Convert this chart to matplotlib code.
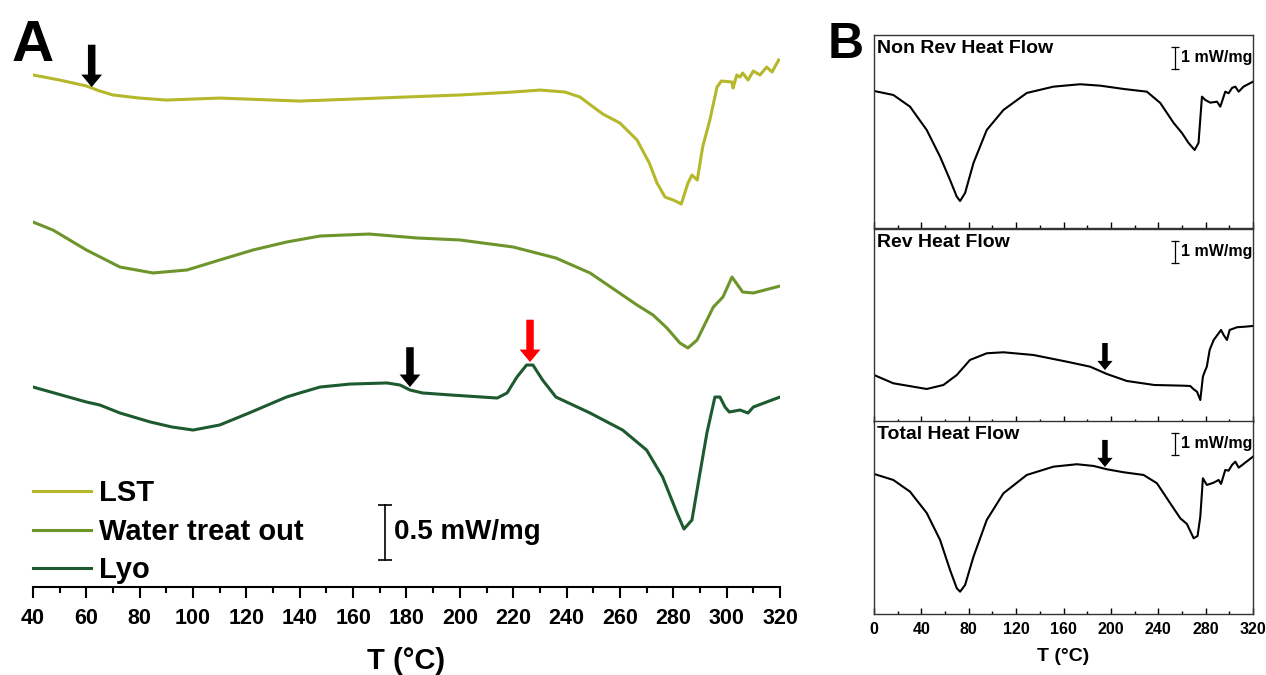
import matplotlib
matplotlib.use("Agg")
import matplotlib.pyplot as plt
import numpy as np

NARROW = ["Liberation Sans Narrow", "Liberation Sans", "DejaVu Sans"]
ARIAL = ["Liberation Sans", "DejaVu Sans"]

# ---- panel A: heat flow (mW/mg, stacked offsets) ----
lst_t = [40, 50, 60, 65, 70, 80, 90, 100, 110, 120, 140, 160, 180, 200, 220, 230,
         239.4, 245, 250, 253.6, 260, 266.4, 271, 273.9, 276.9, 280, 283, 285.5,
         287, 289, 291, 293.7, 296.4, 298, 302, 302.4, 303.8, 305, 306, 308, 310,
         312.5, 315, 317, 319.5]
lst_hf = [4.755, 4.709, 4.655, 4.609, 4.573, 4.545, 4.527, 4.536, 4.545, 4.536,
          4.518, 4.536, 4.555, 4.573, 4.600, 4.618, 4.600, 4.555, 4.464, 4.400,
          4.318, 4.164, 3.955, 3.773, 3.645, 3.618, 3.582, 3.773, 3.845, 3.800,
          4.100, 4.345, 4.645, 4.700, 4.691, 4.636, 4.755, 4.736, 4.773, 4.709,
          4.791, 4.755, 4.827, 4.782, 4.891]

water_t = [40, 47.5, 60, 72.6, 85, 97.7, 110, 122.5, 135, 147.6, 166, 184, 200,
           220, 236, 248.8, 266.4, 272.4, 277.6, 282.5, 285.5, 288.9, 295, 298.6,
           302, 306, 310, 320]
water_hf = [3.418, 3.345, 3.164, 3.009, 2.955, 2.982, 3.073, 3.164, 3.236, 3.291,
            3.309, 3.273, 3.255, 3.191, 3.091, 2.955, 2.664, 2.573, 2.455, 2.318,
            2.273, 2.345, 2.645, 2.736, 2.918, 2.782, 2.773, 2.836]

lyo_t = [40, 60, 65, 72.6, 84, 92, 100, 110, 121, 135, 140, 147.6, 158.8, 172.7,
         177.6, 181.3, 186, 197, 214, 217.7, 221.4, 225, 227.4, 231, 236, 248.8,
         261, 270, 276, 281.4, 284, 287, 290, 292.6, 295.6, 297.5, 299.4, 301,
         305, 308, 310, 315, 320]
lyo_hf = [1.918, 1.782, 1.755, 1.682, 1.600, 1.555, 1.527, 1.573, 1.682, 1.827,
          1.864, 1.918, 1.945, 1.955, 1.936, 1.891, 1.864, 1.845, 1.818, 1.864,
          2.009, 2.118, 2.118, 1.982, 1.827, 1.682, 1.527, 1.345, 1.100, 0.773,
          0.627, 0.709, 1.136, 1.500, 1.827, 1.827, 1.736, 1.691, 1.709, 1.682,
          1.736, 1.782, 1.827]

labels_a = ["LST", "Water treat out", "Lyo"]
colors_a = ["#b4b82a", "#6e952c", "#1d5a2f"]

# arrows: (T, start, tip, colour)
arrows_a = [(62, 5.03, 4.645, "black"), (181.3, 2.28, 1.918, "black"),
            (226.3, 2.53, 2.145, "#ff0000")]

# ---- panel B ----
nonrev_t = [0, 16.3, 30.4, 44.5, 55.8, 64.2, 69.9, 72.7, 76.9, 84, 95.2, 109.3,
            129, 151.5, 174, 191, 210.7, 230.4, 241.7, 253, 260, 265.6, 270.7,
            274, 276.9, 279.7, 284, 289.6, 292.4, 296.6, 299.4, 302.3, 305.1,
            307.9, 312, 320]
nonrev_hf = [6.227, 6.045, 5.514, 4.455, 3.241, 2.182, 1.423, 1.227, 1.591, 2.955,
             4.455, 5.364, 6.136, 6.423, 6.532, 6.468, 6.318, 6.195, 5.682, 4.773,
             4.318, 3.864, 3.545, 3.864, 5.968, 5.818, 5.695, 5.741, 5.514, 6.195,
             6.123, 6.364, 6.423, 6.195, 6.423, 6.650]

rev_t = [0, 16.3, 44.5, 58.6, 69.9, 81, 95.2, 109.3, 134.6, 162.8, 182.5, 196.6,
         213.5, 236.6, 261.4, 267, 269.9, 272.7, 275.5, 277.7, 279.2, 281, 283.4,
         286.8, 291, 293, 295.2, 298, 300.3, 306.5, 313.5, 320]
rev_hf = [2.136, 1.759, 1.5, 1.682, 2.136, 2.818, 3.123, 3.168, 3.045, 2.741,
          2.514, 2.182, 1.864, 1.682, 1.650, 1.636, 1.486, 1.377, 1.0, 2.059,
          2.286, 2.514, 3.273, 3.727, 4.032, 4.182, 3.955, 3.727, 4.182, 4.305,
          4.332, 4.364]

total_t = [0, 16.3, 30.4, 44.5, 55.8, 64.2, 69.9, 72.7, 76.9, 84, 95.2, 109.3,
           129, 151.5, 171.3, 185.4, 196.6, 210.7, 227.6, 238.9, 250.1, 258.6,
           264.2, 269.9, 273.2, 275.5, 277.7, 281, 286.8, 291, 293, 296.6, 299.4,
           302.3, 305.1, 307.9, 312, 320]
total_hf = [6.364, 6.091, 5.559, 4.591, 3.364, 2.0, 1.168, 1.014, 1.318, 2.605,
            4.273, 5.486, 6.318, 6.695, 6.805, 6.727, 6.577, 6.441, 6.318, 5.941,
            5.032, 4.350, 4.091, 3.441, 3.545, 4.423, 6.168, 5.864, 5.968, 6.091,
            5.909, 6.545, 6.514, 6.773, 6.923, 6.650, 6.818, 7.150]

titles_b = ["Non Rev Heat Flow", "Rev Heat Flow", "Total Heat Flow"]
arrows_b = [None, (195, 3.59, 2.36), (195, 7.91, 6.68)]


def draw_arrow(ax, x, y0, y1, color, scale):
    ax.annotate("", xy=(x, y1), xytext=(x, y0),
                arrowprops=dict(arrowstyle="simple,head_length=0.6,head_width=1.0,tail_width=0.36",
                                color=color, lw=0, mutation_scale=scale,
                                shrinkA=0, shrinkB=0))


fig = plt.figure(figsize=(12.66, 6.75), dpi=100)

# panel A
ax = fig.add_axes([33 / 1266, 88 / 675, 747 / 1266, 547 / 675])
for t, hf, lab, c in zip([lst_t, water_t, lyo_t], [lst_hf, water_hf, lyo_hf], labels_a, colors_a):
    ax.plot(t, hf, color=c, lw=2.2, label=lab, solid_joinstyle="round")
ax.set_xlim(40, 320)
ax.set_ylim(0.1, 5.073)
for s in ["top", "left", "right"]:
    ax.spines[s].set_visible(False)
ax.spines["bottom"].set_linewidth(1.5)
ax.set_yticks([])
ax.set_xticks(np.arange(40, 321, 20))
ax.set_xticks(np.arange(50, 320, 20), minor=True)
ax.tick_params(axis="x", which="major", direction="out", length=8, width=1.5, pad=7)
ax.tick_params(axis="x", which="minor", direction="out", length=4, width=1.5)
for lbl in ax.get_xticklabels():
    lbl.set_family(NARROW)
    lbl.set_weight("bold")
    lbl.set_size(15.5)
ax.set_xlabel("T (°C)", family=NARROW, weight="bold", size=21, labelpad=13)
for x, y0, y1, c in arrows_a:
    draw_arrow(ax, x, y0, y1, c, 15)
ax.plot([172, 172], [0.345, 0.845], color="black", lw=1.2, marker="_", ms=10, mew=1.2)
ax.text(175.5, 0.6, "0.5 mW/mg", family=NARROW, weight="bold", size=20, va="center", ha="left")
leg = ax.legend(loc="lower left", bbox_to_anchor=(0.0, 0.005), frameon=False,
                prop=dict(family=NARROW, weight="bold", size=21),
                handlelength=2.0, handletextpad=0.25, labelspacing=0.36,
                borderaxespad=0, borderpad=0)
fig.text(12 / 1266, 1 - 19 / 675, "A", family=ARIAL, weight="bold", size=42, va="top", ha="left")

# panel B
box_bottoms = [447, 253, 61]
series_b = [(nonrev_t, nonrev_hf), (rev_t, rev_hf), (total_t, total_hf)]
for i, ((t, hf), title, arr, bb) in enumerate(zip(series_b, titles_b, arrows_b, box_bottoms)):
    bx = fig.add_axes([874 / 1266, bb / 675, 379 / 1266, 193 / 675])
    bx.plot(t, hf, color="black", lw=1.5, solid_joinstyle="round")
    bx.set_xlim(0, 320)
    bx.set_ylim(0, 8.77)
    bx.set_yticks([])
    for s in bx.spines.values():
        s.set_linewidth(1.0)
        s.set_color("#333333")
    bx.set_xticks(np.arange(0, 321, 40))
    bx.set_xticks(np.arange(20, 320, 40), minor=True)
    bx.tick_params(axis="x", which="major", direction="in", length=4, width=1.0, pad=6)
    bx.tick_params(axis="x", which="minor", direction="in", length=2.5, width=1.0)
    if i < 2:
        bx.set_xticklabels([])
    else:
        for lbl in bx.get_xticklabels():
            lbl.set_family(ARIAL)
            lbl.set_weight("bold")
            lbl.set_size(11.5)
        bx.set_xlabel("T (°C)", family=ARIAL, weight="bold", size=14, labelpad=8)
    bx.text(2.5, 8.55, title, family=ARIAL, weight="bold", size=14, va="top", ha="left")
    bx.plot([254.4, 254.4], [7.227, 8.227], color="black", lw=0.9, marker="_", ms=6, mew=0.9)
    bx.text(259.5, 7.75, "1 mW/mg", family=ARIAL, weight="bold", size=11.5, va="center", ha="left")
    if arr is not None:
        draw_arrow(bx, arr[0], arr[1], arr[2], "black", 11)

fig.text(828 / 1266, 1 - 22 / 675, "B", family=ARIAL, weight="bold", size=36, va="top", ha="left")

fig.savefig("out.png", dpi=100, facecolor="white")
